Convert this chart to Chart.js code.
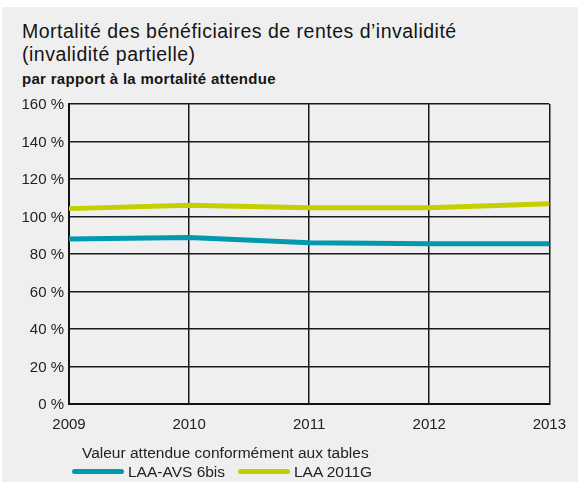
<!DOCTYPE html>
<html>
<head>
<meta charset="utf-8">
<script src="https://cdn.jsdelivr.net/npm/chart.js@4"></script>
<style>
  body { margin: 0; background: #fff; font-family: "Liberation Sans", Arial, sans-serif; }
  #frame { position: absolute; left: 2px; top: 7px; width: 576px; height: 475px; background: #efefef; }
  .abs { position: absolute; white-space: nowrap; color: #151515; }
  #title { left: 22px; top: 20px; font-size: 19.5px; line-height: 22.5px; letter-spacing: 0.5px; }
  #subtitle { left: 22px; top: 70px; font-size: 15px; line-height: 17px; font-weight: bold; letter-spacing: 0.3px; }
  #legendTitle { left: 82px; top: 444px; font-size: 15.5px; line-height: 18px; color: #222; }
  .swatch { position: absolute; height: 5px; border-radius: 3px; }
  .legText { font-size: 15.5px; line-height: 18px; top: 463px; color: #222; }
  #wrap { position: absolute; left: 0; top: 90px; width: 578px; height: 360px; }
</style>
</head>
<body>
<div id="frame"></div>
<div class="abs" id="title">Mortalité des bénéficiaires de rentes d’invalidité<br>(invalidité partielle)</div>
<div class="abs" id="subtitle">par rapport à la mortalité attendue</div>
<div id="wrap"><canvas id="myChart"></canvas></div>
<div class="abs" id="legendTitle">Valeur attendue conformément aux tables</div>
<div id="legend"></div>
<script>
'use strict';
var years = ['2009', '2010', '2011', '2012', '2013'];
var seriesNames = ['LAA-AVS 6bis', 'LAA 2011G'];
var laaAvs6bis = [88, 88.8, 86, 85.5, 85.5];
var laa2011G = [104.2, 106, 104.7, 104.7, 106.8];
var colors = ['#0099ae', '#c3cf00'];

// legend (html, below the chart)
var legend = document.getElementById('legend');
var swatchX = [72, 238];
var textX = [128, 294];
seriesNames.forEach(function (name, i) {
    var sw = document.createElement('div');
    sw.className = 'swatch';
    sw.style.left = swatchX[i] + 'px';
    sw.style.top = '469px';
    sw.style.width = '52px';
    sw.style.background = colors[i];
    legend.appendChild(sw);
    var t = document.createElement('div');
    t.className = 'abs legText';
    t.style.left = textX[i] + 'px';
    t.textContent = name;
    legend.appendChild(t);
});

var ctx = document.getElementById('myChart').getContext('2d');
var myChart = new Chart(ctx, {
    type: 'line',
    data: {
        labels: years,
        datasets: [{
            label: seriesNames[0],
            data: laaAvs6bis,
            borderColor: colors[0],
            backgroundColor: colors[0],
            borderWidth: 5,
            pointRadius: 0,
            tension: 0,
            fill: false
        }, {
            label: seriesNames[1],
            data: laa2011G,
            borderColor: colors[1],
            backgroundColor: colors[1],
            borderWidth: 5,
            pointRadius: 0,
            tension: 0,
            fill: false
        }]
    },
    options: {
        responsive: true,
        maintainAspectRatio: false,
        animation: false,
        layout: { padding: { top: 12, right: 25, left: 0, bottom: 4 } },
        plugins: {
            legend: { display: false },
            title: { display: false },
            tooltip: { enabled: false }
        },
        scales: {
            x: {
                offset: false,
                grid: { color: '#1a1a1a', lineWidth: 1.5, drawTicks: false },
                border: { display: true, color: '#111', width: 2 },
                ticks: {
                    color: '#222',
                    padding: 12,
                    maxRotation: 0,
                    font: { family: 'Liberation Sans', size: 15 }
                }
            },
            y: {
                min: 0,
                max: 160,
                grid: { color: '#1a1a1a', lineWidth: 1.5, drawTicks: false },
                border: { display: true, color: '#111', width: 2 },
                afterFit: function (scale) { scale.width = 69; },
                ticks: {
                    stepSize: 20,
                    color: '#222',
                    padding: 5,
                    labelOffset: 1,
                    font: { family: 'Liberation Sans', size: 15 },
                    callback: function (v) { return v + ' %'; }
                }
            }
        }
    }
});
</script>
</body>
</html>
